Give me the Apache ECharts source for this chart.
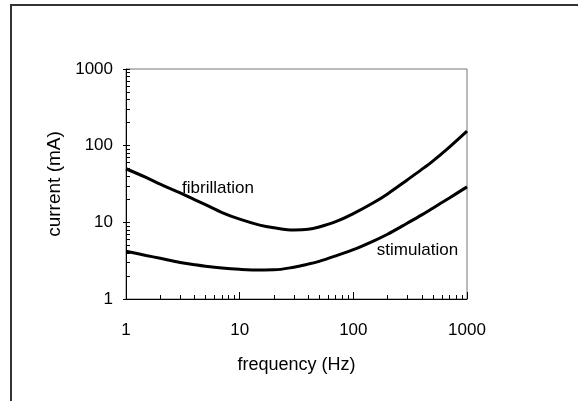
<!DOCTYPE html>
<html>
<head>
<meta charset="utf-8">
<script src="https://cdn.jsdelivr.net/npm/echarts@6/dist/echarts.min.js"></script>
<style>html,body{margin:0;padding:0;background:#fff;}#c{width:578px;height:401px;}</style>
</head>
<body>
<div id="c"></div>
<script>
// Data
const freq = [1, 1.5, 2, 3, 4, 5, 7, 10, 15, 20, 30, 40, 50, 70, 100, 150, 200, 300, 400, 500, 700, 1000];
const fibrillation = [50, 38.5, 31.5, 24.2, 19.8, 17, 13.4, 11, 9.2, 8.5, 7.95, 8.1, 8.7, 10.2, 13, 18, 23.5, 36, 49, 63, 96, 155];
const stimulation = [4.2, 3.7, 3.4, 3.0, 2.8, 2.67, 2.53, 2.44, 2.39, 2.4, 2.6, 2.85, 3.1, 3.65, 4.4, 5.7, 7.0, 9.8, 12.5, 15.3, 20.8, 29];
const xMinorTicks = [2,3,4,5,6,7,8,9,20,30,40,50,60,70,80,90,200,300,400,500,600,700,800,900];
const yInnerTicks = [2,3,4,5,6,7,8,9,10,20,30,40,50,60,70,80,90,100,200,300,400,500,600,700,800,900,1000];
const xTitle = 'frequency (Hz)';
const yTitle = 'current (mA)';
const labelFib = 'fibrillation';
const labelStim = 'stimulation';

const FONT = 'Liberation Sans, Arial, sans-serif';
const chart = echarts.init(document.getElementById('c'), null, {renderer: 'canvas'});

function pairs(xs, ys) { return xs.map((x, i) => [x, ys[i]]); }
function plain(v) { return String(Math.round(v)); }

const option = {
  animation: false,
  backgroundColor: '#fff',
  grid: {left: 126, right: 111, top: 69, bottom: 102, show: true, borderColor: '#777', borderWidth: 1, backgroundColor: 'transparent'},
  xAxis: [
    {
      type: 'log', logBase: 10, min: 1, max: 1000, position: 'bottom',
      name: xTitle, nameLocation: 'middle', nameGap: 57,
      nameTextStyle: {fontFamily: FONT, fontSize: 18, color: '#000'},
      axisLine: {show: true, lineStyle: {color: '#000', width: 1}},
      axisTick: {show: true, inside: true, length: 4, customValues: xMinorTicks, lineStyle: {color: '#000'}},
      axisLabel: {fontFamily: FONT, fontSize: 17, color: '#000', margin: 23, formatter: plain},
      splitLine: {show: false}
    },
    {
      type: 'log', logBase: 10, min: 1, max: 1000, position: 'bottom', gridIndex: 0,
      axisLine: {show: false},
      axisTick: {show: true, inside: true, length: 7, lineStyle: {color: '#000'}},
      axisLabel: {show: false},
      splitLine: {show: false}
    }
  ],
  yAxis: [
    {
      type: 'log', logBase: 10, min: 1, max: 1000, position: 'left',
      name: yTitle, nameLocation: 'middle', nameGap: 46,
      nameTextStyle: {fontFamily: FONT, fontSize: 19, color: '#000'},
      axisLine: {show: true, lineStyle: {color: '#000', width: 1}},
      axisTick: {show: true, inside: true, length: 4, customValues: yInnerTicks, lineStyle: {color: '#000'}},
      axisLabel: {fontFamily: FONT, fontSize: 17, color: '#000', margin: 13, formatter: plain, padding: [6, 0, 0, 0]},
      splitLine: {show: false}
    },
    {
      type: 'log', logBase: 10, min: 1, max: 1000, position: 'left', gridIndex: 0,
      axisLine: {show: false},
      axisTick: {show: true, inside: false, length: 3, lineStyle: {color: '#000'}},
      axisLabel: {show: false},
      splitLine: {show: false}
    }
  ],
  series: [
    {
      name: labelFib, type: 'line', xAxisIndex: 0, yAxisIndex: 0,
      data: pairs(freq, fibrillation), smooth: 0.35, showSymbol: false, symbol: 'none',
      lineStyle: {color: '#000', width: 3}
    },
    {
      name: labelStim, type: 'line', xAxisIndex: 0, yAxisIndex: 0,
      data: pairs(freq, stimulation), smooth: 0.35, showSymbol: false, symbol: 'none',
      lineStyle: {color: '#000', width: 3}
    }
  ],
  graphic: [
    {type: 'rect', shape: {x: 11, y: 5, width: 620, height: 430}, style: {fill: 'none', stroke: '#333', lineWidth: 2}, silent: true},
    {type: 'text', x: 218, y: 188, style: {text: labelFib, fontFamily: FONT, fontSize: 17, fill: '#000', align: 'center', verticalAlign: 'middle'}},
    {type: 'text', x: 417.5, y: 250.5, style: {text: labelStim, fontFamily: FONT, fontSize: 17, fill: '#000', align: 'center', verticalAlign: 'middle'}}
  ]
};
chart.setOption(option);
</script>
</body>
</html>
